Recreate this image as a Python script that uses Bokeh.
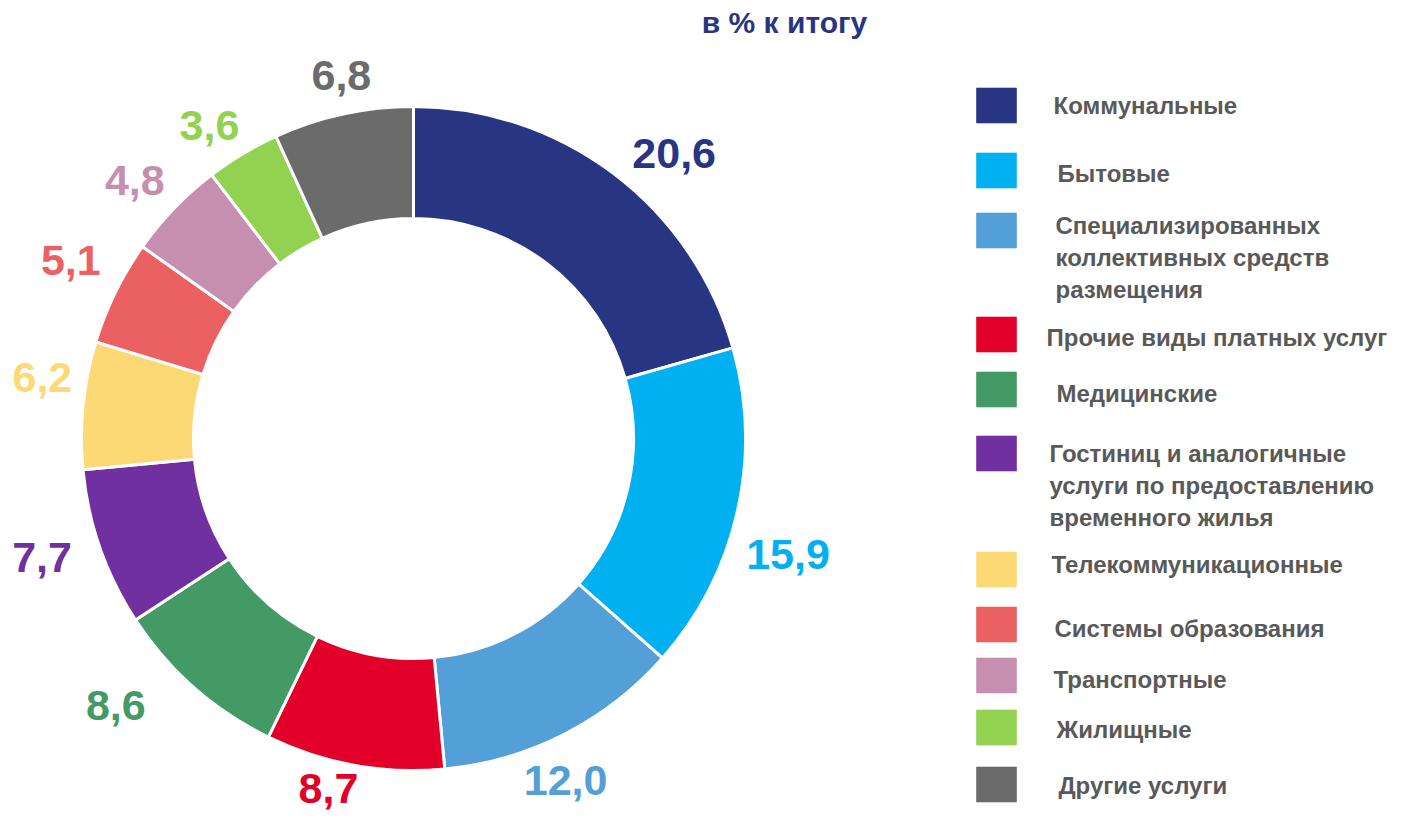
import numpy as np
from bokeh.plotting import figure
from bokeh.models import Range1d, ColumnDataSource
from bokeh.core.properties import value
from bokeh.embed import file_html
from bokeh.resources import INLINE

# ---- data ----
title_text = "в % к итогу"
categories = [
    "Коммунальные",
    "Бытовые",
    "Специализированных\nколлективных средств\nразмещения",
    "Прочие виды платных услуг",
    "Медицинские",
    "Гостиниц и аналогичные\nуслуги по предоставлению\nвременного жилья",
    "Телекоммуникационные",
    "Системы образования",
    "Транспортные",
    "Жилищные",
    "Другие услуги",
]
shares = [20.6, 15.9, 12.0, 8.7, 8.6, 7.7, 6.2, 5.1, 4.8, 3.6, 6.8]
colors = ["#283583", "#00B0F0", "#539FD7", "#E2002A", "#449A64", "#7130A0",
          "#FDD976", "#EB6061", "#C68FB0", "#93D150", "#6B6B6B"]

# ---- layout / style (screen pixel constants) ----
W, H = 1390, 817
def sy(y):
    return 833 - y

cx, cy = 413, sy(438)
r_in, r_out = 220, 332
# label placement nudges: radius and angle offset (deg) per slice
lab_r = [386, 392, 374, 360, 400, 390, 376, 386, 380, 374, 370]
lab_da = [-5.4, -4.4, -3.0, -3.4, -6.7, -1.5, -3.5, -1.3, 1.1, 2.1, -1.0]

p = figure(width=W, height=H, output_backend="svg", toolbar_location=None,
           x_range=Range1d(0, W), y_range=Range1d(sy(H), sy(0)),
           min_border=0)
p.axis.visible = False
p.grid.visible = False
p.outline_line_color = None
p.background_fill_color = "white"
p.border_fill_color = "white"

vals = np.array(shares)
total = vals.sum()
cum = np.concatenate([[0], np.cumsum(vals)])
start = np.pi / 2 - cum[:-1] / total * 2 * np.pi
end = np.pi / 2 - cum[1:] / total * 2 * np.pi
mid = (start + end) / 2 + np.deg2rad(lab_da)
lr = np.array(lab_r)

src = ColumnDataSource(dict(start=start, end=end, color=colors,
                            lx=cx + lr * np.cos(mid), ly=cy + lr * np.sin(mid),
                            lab=[f"{v:.1f}".replace(".", ",") for v in shares]))

p.annular_wedge(x=cx, y=cy, inner_radius=r_in, outer_radius=r_out,
                inner_radius_units="screen", outer_radius_units="screen",
                start_angle="start", end_angle="end", direction="clock",
                fill_color="color", line_color="white", line_width=3, source=src)

p.text(x="lx", y="ly", text="lab", text_color="color", source=src,
       text_font=value("Liberation Sans"), text_font_style="bold",
       text_font_size="43px", text_align="center", text_baseline="middle")

# title
p.text(x=[784], y=[sy(22)], text=[title_text], text_color="#283583",
       text_font=value("Liberation Sans"), text_font_style="bold",
       text_font_size="30px", text_align="center", text_baseline="middle")

# legend
sq_centers = [105, 170, 230, 334, 389, 453, 569, 624, 675, 727, 784]
first_line = [105, 173, 225, 337, 393, 453, 564, 628, 679, 729, 785]
text_x = [1053, 1057, 1055, 1046, 1056, 1049, 1051, 1054, 1053, 1056, 1058]
line_gap = 32
sq_x = 996
p.rect(x=[sq_x] * len(categories), y=[sy(c) for c in sq_centers], width=40, height=35,
       width_units="screen", height_units="screen", fill_color=colors,
       line_color=colors, line_alpha=0.6)

tx, ty, tt = [], [], []
for lab, y0, x0 in zip(categories, first_line, text_x):
    for k, line in enumerate(lab.split("\n")):
        tx.append(x0)
        ty.append(sy(y0 + k * line_gap))
        tt.append(line)
p.text(x=tx, y=ty, text=tt, text_color="#595959",
       text_font=value("Liberation Sans"), text_font_style="bold",
       text_font_size="24px", text_align="left", text_baseline="middle")

open("out.html", "w").write(file_html(p, INLINE))
